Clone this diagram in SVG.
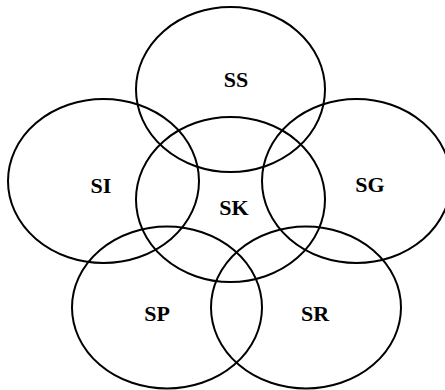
<svg xmlns="http://www.w3.org/2000/svg" width="445" height="390" viewBox="0 0 445 390">
<style>
.c{fill:none;stroke:#000;stroke-width:2}
.t{font-family:"Liberation Serif","Times New Roman",serif;font-weight:bold;font-size:22px;text-anchor:middle;fill:#000}
</style>
<rect width="445" height="390" fill="#fff"/>
<g id="SS"><ellipse class="c" cx="230.5" cy="89.5" rx="94.5" ry="82.5"/><text class="t" x="236" y="86.5">SS</text></g>
<g id="SI"><ellipse class="c" cx="103.5" cy="181" rx="95.5" ry="82"/><text class="t" x="101" y="192.5">SI</text></g>
<g id="SK"><ellipse class="c" cx="230.5" cy="199.5" rx="94.5" ry="82.5"/><text class="t" x="234" y="214.5">SK</text></g>
<g id="SG"><ellipse class="c" cx="356.5" cy="181" rx="94.5" ry="82"/><text class="t" x="370" y="191.5">SG</text></g>
<g id="SP"><ellipse class="c" cx="167" cy="307.5" rx="95" ry="81"/><text class="t" x="157" y="320.5">SP</text></g>
<g id="SR"><ellipse class="c" cx="306" cy="307.5" rx="95" ry="81"/><text class="t" x="315" y="320.5">SR</text></g>
</svg>
